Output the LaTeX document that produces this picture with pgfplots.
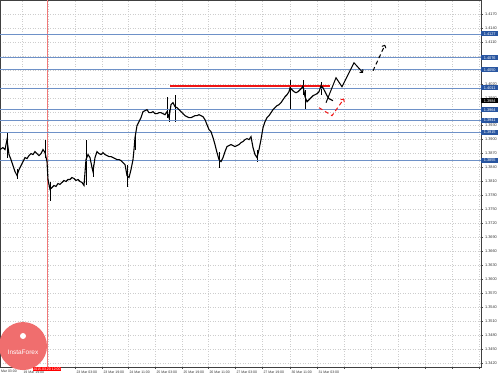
\documentclass[border=0pt]{standalone}
\usepackage{pgfplots}
\pgfplotsset{compat=1.18}
\usepackage{pgfplotstable}
\usepackage{fontspec}
\setmainfont{Liberation Sans}
\usetikzlibrary{arrows.meta}
\definecolor{lvl}{RGB}{110,145,200}
\definecolor{lvlbox}{RGB}{40,85,160}
\definecolor{pinkv}{RGB}{240,120,120}
\definecolor{resline}{RGB}{240,20,20}
\definecolor{logo}{RGB}{240,110,110}
\definecolor{gridc}{RGB}{205,205,205}

\pgfplotstableread{
x y
0 1.38786
3 1.38829
5 1.38786
7 1.39000
9 1.38679
11 1.38571
13 1.38443
15 1.38314
17 1.38229
19 1.38357
21 1.38443
23 1.38529
25 1.38614
27 1.38593
29 1.38657
31 1.38700
33 1.38679
35 1.38743
37 1.38700
39 1.38657
41 1.38700
43 1.38786
45 1.38721
47 1.38529
48 1.38143
50 1.37929
52 1.37971
54 1.38014
56 1.37993
58 1.38057
60 1.38036
62 1.38079
64 1.38121
66 1.38100
68 1.38143
70 1.38143
72 1.38186
74 1.38164
76 1.38121
78 1.38143
80 1.38100
82 1.38079
84 1.38014
86 1.38571
88 1.38679
90 1.38614
92 1.38400
93 1.38314
95 1.38614
97 1.38743
99 1.38700
101 1.38679
103 1.38721
105 1.38679
107 1.38657
109 1.38636
111 1.38636
113 1.38614
115 1.38593
117 1.38571
119 1.38571
121 1.38550
123 1.38507
125 1.38464
127 1.38229
129 1.38186
131 1.38357
133 1.38571
134 1.38786
135 1.39043
137 1.39300
139 1.39386
141 1.39471
143 1.39600
145 1.39621
147 1.39643
149 1.39579
151 1.39579
153 1.39600
155 1.39557
157 1.39557
159 1.39579
161 1.39579
163 1.39557
165 1.39536
167 1.39600
169 1.39471
171 1.39750
173 1.39793
175 1.39707
177 1.39686
179 1.39643
181 1.39600
183 1.39557
185 1.39514
187 1.39493
189 1.39471
191 1.39471
193 1.39493
195 1.39514
197 1.39514
199 1.39536
201 1.39514
203 1.39493
205 1.39429
207 1.39321
209 1.39214
211 1.39171
213 1.39043
215 1.38893
217 1.38721
219 1.38571
221 1.38529
223 1.38614
225 1.38743
227 1.38850
229 1.38871
231 1.38893
233 1.38871
235 1.38850
237 1.38871
239 1.38893
241 1.38936
243 1.38957
245 1.39000
247 1.39021
249 1.39000
251 1.39064
253 1.38829
255 1.38679
257 1.38614
259 1.38786
261 1.39000
263 1.39257
265 1.39386
267 1.39471
269 1.39514
271 1.39579
273 1.39643
275 1.39686
277 1.39729
279 1.39750
281 1.39793
283 1.39857
285 1.39921
287 1.39964
289 1.40029
290 1.40114
292 1.40071
294 1.40029
296 1.40007
298 1.40029
300 1.40071
302 1.40114
303 1.40157
305 1.39921
307 1.39814
309 1.39857
311 1.39900
313 1.39943
315 1.39964
317 1.39986
319 1.40029
321 1.40157
323 1.40114
325 1.40029
327 1.39943
329 1.39879
331 1.39857
333 1.39836
}\price

\pgfplotstableread{
x y ep em
7 1.39000 0.00150 0.00386
17 1.38229 0.00129 0.00086
45 1.38721 0.00279 0.00107
50 1.37929 0.00150 0.00257
86 1.38571 0.00429 0.00557
93 1.38314 0.00150 0.00107
127 1.38229 0.00236 0.00257
135 1.39043 0.00129 0.00257
167 1.39600 0.00321 0.00129
169 1.39471 0.00171 0.00086
175 1.39707 0.00257 0.00321
219 1.38571 0.00171 0.00171
257 1.38614 0.00171 0.00086
290 1.40114 0.00171 0.00471
303 1.40157 0.00129 0.00193
305 1.39921 0.00150 0.00279
321 1.40157 0.00086 0.00193
}\spikes

\begin{document}
\begin{tikzpicture}
\useasboundingbox (0,0) rectangle (499bp,375bp);
\begin{axis}[
  at={(0,8bp)}, anchor=south west,
  scale only axis, width=481bp, height=367bp,
  xmin=0, xmax=481, ymin=1.34114, ymax=1.42,
  clip=false,
  axis line style={black!75, line width=0.5pt},
  grid=major,
  grid style={dash pattern=on 1bp off 1.5bp, gridc, line width=0.35pt},
  xtick={22,48,75,102,128,155,182,208,235,262,290,317,344,371,398,425,452,479},
  xticklabels={19 Mar 19:00,,23 Mar 03:00,23 Mar 19:00,24 Mar 11:00,25 Mar 03:00,25 Mar 19:00,26 Mar 11:00,27 Mar 03:00,27 Mar 19:00,30 Mar 11:00,31 Mar 03:00,,,,,,},
  xticklabel style={anchor=north west, xshift=-2bp, yshift=1bp, font=\fontsize{3.5}{4}\selectfont, text=black!80},
  ytick={1.342,1.345,1.348,1.351,1.354,1.357,1.360,1.363,1.366,1.369,1.372,1.375,1.378,1.381,1.384,1.387,1.390,1.393,1.396,1.399,1.402,1.405,1.408,1.411,1.414,1.417},
  yticklabels={1.3420,1.3450,1.3480,1.3510,1.3540,1.3570,1.3600,1.3630,1.3660,1.3690,1.3720,1.3750,1.3780,1.3810,1.3840,1.3870,1.3900,1.3930,{},1.3990,1.4020,{},{},1.4110,1.4140,1.4170},
  yticklabel pos=right,
  yticklabel style={font=\fontsize{3.9}{4}\selectfont, text=black!80, xshift=-1.5bp},
  tick style={black!70, line width=0.4pt},
  major tick length=2bp,
  tick align=outside,
  xtick pos=bottom, ytick pos=right,
]
% candle wicks
\addplot[draw=none, mark=none, error bars/.cd, y dir=both, y explicit, error mark=none,
  error bar style={black, line width=0.7pt}]
  table[x=x, y=y, y error plus=ep, y error minus=em] {\spikes};

% pink vertical line
\addplot[draw=pinkv, solid, line width=1pt] coordinates {(47,1.34114) (47,1.42)};

% level lines
\pgfplotsinvokeforeach{1.4127,1.4076,1.4050,1.4011,1.3964,1.3941,1.3915,1.3855}{
  \addplot[draw=lvl, solid, line width=0.8pt] coordinates {(0,#1) (481,#1)};
}

% red resistance line
\addplot[draw=resline, solid, line width=1.5pt] coordinates {(170,1.40157) (330,1.40157)};

% price
\addplot[black, line width=1.1pt] table[x=x, y=y] {\price};

% forecast arrows
\addplot[black, line width=1pt, -{To[length=3bp,width=5bp]}] coordinates {(326,1.39793) (336,1.40329) (342,1.40136) (354,1.40650) (363,1.40436)};
\addplot[black, line width=1pt, dash pattern=on 4bp off 3bp, -{To[length=3bp,width=5bp]}] coordinates {(373,1.40479) (385,1.41036)};
\addplot[resline, line width=1pt, dash pattern=on 4bp off 3bp, -{To[length=3bp,width=5bp]}] coordinates {(319,1.39686) (332,1.39514) (344,1.39879)};

% logo watermark
\fill[logo] (axis cs:23,1.34564) circle[radius=24bp];
\node[text=white, font=\fontsize{6.5}{7}\selectfont] at (axis cs:23,1.34440) {InstaForex};
\fill[white] (axis cs:23,1.34780) circle[radius=3bp];

% right labels
\pgfplotsinvokeforeach{1.4127,1.4076,1.4050,1.4011,1.3964,1.3941,1.3915,1.3855}{
  \node[fill=lvlbox, text=white, anchor=west, inner sep=0.6bp, minimum width=17bp, minimum height=5bp, font=\fontsize{3.9}{4}\selectfont] at (axis cs:481,#1) {#1};
}
\node[fill=black, text=white, anchor=west, inner sep=0.6bp, minimum width=17bp, minimum height=5bp, font=\fontsize{3.9}{4}\selectfont] at (axis cs:481,1.39836) {1.3984};

% bottom labels
\node[anchor=north west, inner sep=0pt, font=\fontsize{3.5}{4}\selectfont, text=black!80] at (axis cs:-4,1.34050) {19 Mar 03:00};
\node[fill=red, text=white, anchor=north, inner sep=0.8bp, font=\fontsize{3.5}{4}\selectfont] at (axis cs:47,1.34114) {2015.03.20 12:00};
\end{axis}
\end{tikzpicture}
\end{document}
